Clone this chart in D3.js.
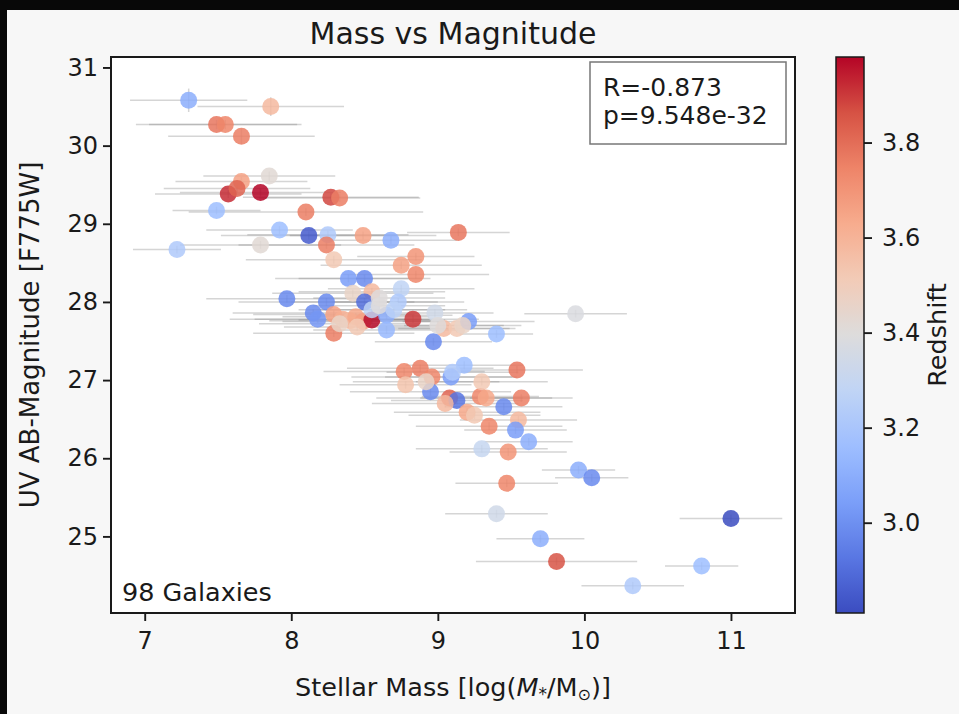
<!DOCTYPE html>
<html>
<head>
<meta charset="utf-8">
<script src="https://cdn.jsdelivr.net/npm/d3@7"></script>
<style>
html, body { margin: 0; padding: 0; background: #f7f7f7; }
svg { display: block; font-family: "DejaVu Sans", sans-serif; }
</style>
</head>
<body>
<svg id="chart" width="959" height="714"></svg>
<script>
// Galaxy sample: stellar mass (log M*/Msun), UV magnitude, redshift and 1-sigma errors
const stellarMass = [7.30, 7.86, 7.49, 7.55, 7.66, 7.66, 7.85, 7.57, 7.79, 8.27,
  8.33, 7.49, 8.10, 7.92, 8.12, 8.25, 8.24, 7.22, 7.79, 8.49,
  8.68, 9.14, 8.29, 8.75, 8.85, 8.85, 8.39, 8.50, 8.75, 7.97,
  8.42, 8.55, 8.73, 8.24, 8.50, 8.15, 8.18, 8.29, 8.35, 8.40,
  8.44, 8.49, 8.55, 8.65, 8.65, 8.83, 8.98, 9.04, 9.13, 9.21,
  9.40, 8.29, 8.97, 8.77, 8.88, 8.96, 8.78, 9.09, 9.18, 8.95,
  9.08, 9.13, 9.29, 9.33, 9.20, 9.54, 9.30, 9.45, 9.57, 9.35,
  9.55, 9.53, 9.62, 9.30, 9.48, 9.96, 10.05, 9.47, 9.40, 9.70,
  9.81, 10.33, 10.80, 11.00, 9.94, 8.55, 8.60, 8.70, 9.17, 8.33,
  8.45, 9.00, 9.05, 9.25, 8.92, 9.10, 8.60, 7.63];
const uvMagnitude = [30.58, 30.50, 30.27, 30.27, 30.12, 29.54, 29.61, 29.38, 29.40, 29.34,
  29.33, 29.17, 29.15, 28.92, 28.85, 28.86, 28.73, 28.67, 28.73, 28.85,
  28.79, 28.89, 28.54, 28.47, 28.58, 28.35, 28.30, 28.30, 28.17, 28.04,
  28.11, 28.13, 28.00, 28.00, 28.00, 27.86, 27.78, 27.84, 27.78, 27.76,
  27.81, 27.75, 27.77, 27.83, 27.64, 27.78, 27.86, 27.66, 27.66, 27.75,
  27.59, 27.60, 27.49, 27.11, 27.15, 27.04, 26.94, 27.04, 27.19, 26.85,
  26.77, 26.74, 26.79, 26.77, 26.59, 27.13, 26.98, 26.66, 26.77, 26.41,
  26.49, 26.36, 26.21, 26.12, 26.08, 25.85, 25.75, 25.68, 25.29, 24.97,
  24.68, 24.37, 24.62, 25.23, 27.85, 27.90, 27.95, 27.90, 27.70, 27.72,
  27.68, 27.70, 26.70, 26.55, 26.98, 27.10, 28.05, 29.45];
const redshift = [3.10, 3.58, 3.78, 3.74, 3.76, 3.66, 3.42, 3.92, 3.98, 3.88,
  3.76, 3.16, 3.76, 3.16, 2.85, 3.22, 3.76, 3.22, 3.42, 3.66,
  3.10, 3.78, 3.52, 3.66, 3.70, 3.74, 3.04, 2.98, 3.28, 2.98,
  3.46, 3.58, 3.22, 2.98, 2.90, 2.98, 3.02, 3.66, 3.62, 3.58,
  3.64, 3.66, 3.97, 3.10, 3.14, 3.90, 3.34, 3.58, 3.52, 3.04,
  3.16, 3.76, 2.98, 3.74, 3.76, 3.74, 3.54, 3.04, 3.16, 2.98,
  3.82, 2.92, 3.74, 3.64, 3.64, 3.78, 3.52, 2.98, 3.76, 3.74,
  3.58, 3.04, 3.10, 3.30, 3.70, 3.10, 2.98, 3.74, 3.34, 3.10,
  3.86, 3.22, 3.16, 2.81, 3.38, 3.28, 3.40, 3.26, 3.46, 3.46,
  3.52, 3.40, 3.58, 3.52, 3.46, 3.22, 3.40, 3.82];
const massErr = [0.40, 0.50, 0.55, 0.52, 0.50, 0.45, 0.45, 0.50, 0.55, 0.60,
  0.55, 0.30, 0.80, 0.50, 0.60, 0.55, 0.60, 0.30, 0.55, 0.50,
  0.45, 0.35, 0.60, 0.55, 0.40, 0.50, 0.50, 0.45, 0.50, 0.55,
  0.55, 0.50, 0.45, 0.60, 0.50, 0.55, 0.60, 0.55, 0.60, 0.55,
  0.50, 0.55, 0.50, 0.45, 0.50, 0.45, 0.40, 0.45, 0.40, 0.45,
  0.25, 0.55, 0.40, 0.55, 0.50, 0.55, 0.45, 0.45, 0.40, 0.55,
  0.50, 0.45, 0.40, 0.45, 0.50, 0.45, 0.45, 0.40, 0.35, 0.50,
  0.40, 0.35, 0.30, 0.45, 0.40, 0.25, 0.25, 0.35, 0.35, 0.30,
  0.55, 0.35, 0.25, 0.35, 0.35, 0.50, 0.45, 0.50, 0.40, 0.55,
  0.50, 0.45, 0.50, 0.45, 0.50, 0.45, 0.45, 0.50];
const magErr = [0.15, 0.12, 0.06, 0.06, 0.10, 0.06, 0.06, 0.05, 0.05, 0.05,
  0.05, 0.05, 0.05, 0.05, 0.05, 0.05, 0.05, 0.05, 0.05, 0.05,
  0.05, 0.05, 0.05, 0.05, 0.05, 0.05, 0.05, 0.05, 0.05, 0.05,
  0.05, 0.05, 0.05, 0.05, 0.05, 0.05, 0.05, 0.05, 0.05, 0.05,
  0.05, 0.05, 0.05, 0.05, 0.05, 0.05, 0.05, 0.05, 0.05, 0.05,
  0.05, 0.05, 0.05, 0.05, 0.05, 0.05, 0.05, 0.05, 0.05, 0.05,
  0.05, 0.05, 0.05, 0.05, 0.05, 0.05, 0.05, 0.05, 0.05, 0.05,
  0.05, 0.05, 0.05, 0.05, 0.05, 0.05, 0.05, 0.05, 0.05, 0.05,
  0.05, 0.05, 0.05, 0.05, 0.05, 0.05, 0.05, 0.05, 0.05, 0.05,
  0.05, 0.05, 0.05, 0.05, 0.05, 0.05, 0.05, 0.05];

const xTicks = [7, 8, 9, 10, 11];
const yTicks = [25, 26, 27, 28, 29, 30, 31];
const zTicks = [3.0, 3.2, 3.4, 3.6, 3.8];
const statsLines = ["R=-0.873", "p=9.548e-32"];
const countLabel = "98 Galaxies";
const titleText = "Mass vs Magnitude";
const yLabelText = "UV AB-Magnitude [F775W]";
const zLabelText = "Redshift";

// coolwarm colormap stops
const coolwarmStops = ["#3b4cc0", "#5977e3", "#7b9ff9", "#9ebeff", "#c0d4f5", "#dddcdc",
  "#f2cbb7", "#f7ac8e", "#ee8468", "#d65244", "#b40426"];

const galaxies = stellarMass.map((m, i) => ({
  mass: m, mag: uvMagnitude[i], z: redshift[i], dm: massErr[i], dmag: magErr[i]
}));

const svg = d3.select("#chart");
const FS = 24;      // tick labels
const LFS = 25.5;   // axis labels and annotations

// dark edge of the window frame
svg.append("rect").attr("x", 0).attr("y", 0).attr("width", 959).attr("height", 714).attr("fill", "#f7f7f7");
svg.append("rect").attr("x", 0).attr("y", 0).attr("width", 959).attr("height", 10).attr("fill", "#080808");
svg.append("rect").attr("x", 0).attr("y", 0).attr("width", 7).attr("height", 714).attr("fill", "#080808");

const plot = { left: 111, right: 795, top: 57, bottom: 613 };

const x = d3.scaleLinear().domain([6.77, 11.437]).range([plot.left, plot.right]);
const y = d3.scaleLinear().domain([24.02, 31.134]).range([plot.bottom, plot.top]);
const zMin = d3.min(redshift), zMax = d3.max(redshift);
const zNorm = d3.scaleLinear().domain([zMin, zMax]).range([0, 1]);
const coolwarm = d3.piecewise(d3.interpolateRgb, coolwarmStops);
const colorOf = v => coolwarm(Math.max(0, Math.min(1, zNorm(v))));

// axes background
svg.append("rect")
  .attr("x", plot.left).attr("y", plot.top)
  .attr("width", plot.right - plot.left).attr("height", plot.bottom - plot.top)
  .attr("fill", "#ffffff");

svg.append("clipPath").attr("id", "plotClip")
  .append("rect")
  .attr("x", plot.left).attr("y", plot.top)
  .attr("width", plot.right - plot.left).attr("height", plot.bottom - plot.top);

const inner = svg.append("g").attr("clip-path", "url(#plotClip)");

// error bars
const eb = inner.append("g")
  .attr("stroke", "#808080").attr("stroke-opacity", 0.33).attr("stroke-width", 1.5);
eb.selectAll("line.xerr").data(galaxies).join("line").attr("class", "xerr")
  .attr("x1", d => x(d.mass - d.dm)).attr("x2", d => x(d.mass + d.dm))
  .attr("y1", d => y(d.mag)).attr("y2", d => y(d.mag));
eb.selectAll("line.yerr").data(galaxies).join("line").attr("class", "yerr")
  .attr("x1", d => x(d.mass)).attr("x2", d => x(d.mass))
  .attr("y1", d => y(d.mag - d.dmag)).attr("y2", d => y(d.mag + d.dmag));

// galaxies coloured by redshift
inner.append("g").selectAll("circle").data(galaxies).join("circle")
  .attr("cx", d => x(d.mass)).attr("cy", d => y(d.mag)).attr("r", 8.5)
  .attr("fill", d => colorOf(d.z)).attr("fill-opacity", 0.85);

// frame
svg.append("rect")
  .attr("x", plot.left).attr("y", plot.top)
  .attr("width", plot.right - plot.left).attr("height", plot.bottom - plot.top)
  .attr("fill", "none").attr("stroke", "#1a1a1a").attr("stroke-width", 2);

// axes
const xAxis = svg.append("g").attr("transform", `translate(0,${plot.bottom})`)
  .call(d3.axisBottom(x).tickValues(xTicks).tickFormat(d3.format("d")).tickSize(8).tickPadding(11));
const yAxis = svg.append("g").attr("transform", `translate(${plot.left},0)`)
  .call(d3.axisLeft(y).tickValues(yTicks).tickFormat(d3.format("d")).tickSize(8).tickPadding(5));
[xAxis, yAxis].forEach(a => {
  a.select(".domain").remove();
  a.selectAll(".tick line").attr("stroke", "#1a1a1a").attr("stroke-width", 1.9);
  a.selectAll(".tick text").attr("fill", "#1a1a1a").attr("font-size", FS)
    .attr("font-family", "DejaVu Sans, sans-serif");
});

// title and axis labels
svg.append("text").attr("x", (plot.left + plot.right) / 2).attr("y", 44)
  .attr("text-anchor", "middle").attr("font-size", 30).attr("fill", "#1a1a1a").text(titleText);

const xl = svg.append("text").attr("x", (plot.left + plot.right) / 2).attr("y", 696)
  .attr("text-anchor", "middle").attr("font-size", LFS).attr("fill", "#1a1a1a");
xl.append("tspan").text("Stellar Mass [log(");
xl.append("tspan").attr("font-style", "italic").text("M");
xl.append("tspan").attr("font-size", 17).attr("dy", 4).text("*");
xl.append("tspan").attr("dy", -4).text("/M");
xl.append("tspan").attr("font-size", 16).attr("dy", 4).text("\u2299");
xl.append("tspan").attr("dy", -4).text(")]");

svg.append("text").attr("transform", `translate(39,${(plot.top + plot.bottom) / 2}) rotate(-90)`)
  .attr("text-anchor", "middle").attr("font-size", 26).attr("fill", "#1a1a1a").text(yLabelText);

// statistics box
svg.append("rect").attr("x", 590).attr("y", 62).attr("width", 196).attr("height", 82)
  .attr("fill", "#ffffff").attr("stroke", "#777777").attr("stroke-width", 1.5);
svg.append("g").selectAll("text").data(statsLines).join("text")
  .attr("x", 603).attr("y", (d, i) => 96 + i * 28)
  .attr("font-size", 25).attr("fill", "#1a1a1a").text(d => d);

svg.append("text").attr("x", 122).attr("y", 601)
  .attr("font-size", LFS).attr("fill", "#1a1a1a").text(countLabel);

// colorbar
const cb = { left: 836, right: 864 };
const zScale = d3.scaleLinear().domain([zMin, zMax]).range([plot.bottom, plot.top]);
const grad = svg.append("defs").append("linearGradient").attr("id", "cwGrad")
  .attr("x1", 0).attr("y1", 1).attr("x2", 0).attr("y2", 0);
d3.range(0, 1.0001, 0.02).forEach(t => {
  grad.append("stop").attr("offset", t).attr("stop-color", coolwarm(t));
});
svg.append("rect").attr("x", cb.left).attr("y", plot.top)
  .attr("width", cb.right - cb.left).attr("height", plot.bottom - plot.top)
  .attr("fill", "url(#cwGrad)").attr("stroke", "#1a1a1a").attr("stroke-width", 1.5);
const zAxis = svg.append("g").attr("transform", `translate(${cb.right},0)`)
  .call(d3.axisRight(zScale).tickValues(zTicks).tickFormat(d3.format(".1f")).tickSize(8).tickPadding(10));
zAxis.select(".domain").remove();
zAxis.selectAll(".tick line").attr("stroke", "#1a1a1a").attr("stroke-width", 1.9);
zAxis.selectAll(".tick text").attr("fill", "#1a1a1a").attr("font-size", FS)
  .attr("font-family", "DejaVu Sans, sans-serif");

svg.append("text").attr("transform", `translate(946,${(plot.top + plot.bottom) / 2}) rotate(-90)`)
  .attr("text-anchor", "middle").attr("font-size", LFS).attr("fill", "#1a1a1a").text(zLabelText);
</script>
</body>
</html>
